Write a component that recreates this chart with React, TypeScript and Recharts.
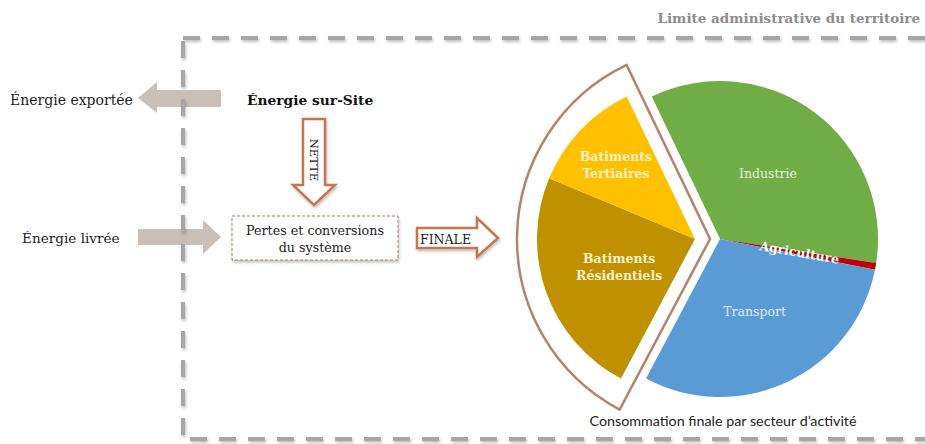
import React from 'react'
import { PieChart, Pie, Cell } from 'recharts'

// sectors of the final consumption pie (share in %)
const sectors = ['Industrie', 'Agriculture', 'Transport', 'Batiments Résidentiels', 'Batiments Tertiaires']
const shares = [34.5, 0.7, 29.6, 23.5, 11.6]
const sectorColors = ['#70ad47', '#c00000', '#5b9bd5', '#bf9000', '#ffc000']
const isBuilding = [false, false, false, true, true]

const pieData = sectors.map((name, i) => ({ name, value: shares[i] }))
const frameData = [
    { name: 'Autres', value: shares.filter((_, i) => !isBuilding[i]).reduce((a, b) => a + b, 0) },
    { name: 'Bâtiments', value: shares.filter((_, i) => isBuilding[i]).reduce((a, b) => a + b, 0) },
]

const START = 115.6
const SERIF = '"DejaVu Serif", serif'

const labelStyle = (name: string) => {
    if (name.startsWith('Batiments')) return { fill: '#fff2cc', fontWeight: 700 }
    if (name === 'Industrie') return { fill: '#e2efda', fontWeight: 400 }
    if (name === 'Transport') return { fill: '#deebf7', fontWeight: 400 }
    return { fill: '#ffffff', fontWeight: 700 }
}

const renderLabel = (buildings: boolean) => (props: any) => {
    const { cx, cy, midAngle, outerRadius, index } = props
    if (isBuilding[index] !== buildings) return null
    const name = sectors[index]
    const RAD = Math.PI / 180
    const r = outerRadius * (name === 'Batiments Tertiaires' ? 0.69 : 0.51)
    const x = cx + r * Math.cos(-midAngle * RAD)
    const y = cy + r * Math.sin(-midAngle * RAD)
    const lines = name.startsWith('Batiments') ? name.split(' ') : [name]
    const st = labelStyle(name)
    const rot = name === 'Agriculture' ? `rotate(${-midAngle}, ${x}, ${y})` : undefined
    return (
        <text
            x={x}
            y={y}
            textAnchor="middle"
            fontFamily={SERIF}
            fontSize={12.5}
            fill={st.fill}
            fontWeight={st.fontWeight}
            transform={rot}
        >
            {lines.map((l, i) => (
                <tspan key={l} x={x} dy={i === 0 ? (lines.length > 1 ? -3 : 4) : 17}>{l}</tspan>
            ))}
        </text>
    )
}

function Decorations() {
    return (
        <svg width={925} height={444} style={{ position: 'absolute', left: 0, top: 0 }}>
            <defs>
                <filter id="shadow" x="-20%" y="-20%" width="140%" height="160%">
                    <feDropShadow dx="1" dy="2" stdDeviation="1.5" floodColor="#000" floodOpacity="0.25" />
                </filter>
            </defs>
            <rect x={0} y={0} width={925} height={444} fill="#fff" />

            {/* gray arrows */}
            <path d="M221,90 V107 H157 V113 L138,98 L157,82 V90 Z" fill="#c8bfb9" />
            <path d="M138,229 H203 V220 L221,237 L203,254 V245 H138 Z" fill="#c8bfb9" />

            {/* territory boundary */}
            <g stroke="#a6a6a6" strokeWidth={4} strokeDasharray="17 12" filter="url(#shadow)" fill="none">
                <path d="M183,38 H925" />
                <path d="M183,41 V436" />
                <path d="M190,439 H925" />
            </g>
            <text x={920} y={23} textAnchor="end" fontFamily={SERIF} fontSize={13.5} fontWeight={700} fill="#8c8c8c">
                Limite administrative du territoire
            </text>

            <text x={10} y={105} fontFamily={SERIF} fontSize={14} fill="#222">Énergie exportée</text>
            <text x={22} y={243} fontFamily={SERIF} fontSize={13.6} fill="#222">Énergie livrée</text>
            <text x={247} y={105} fontFamily={SERIF} fontSize={13.8} fontWeight={700} fill="#111">Énergie sur-Site</text>

            {/* NETTE arrow */}
            <path d="M303,119 H325 V185 H335 L314,205 L293,185 H303 Z" fill="#fff" stroke="#c47650" strokeWidth={2.5} filter="url(#shadow)" />
            <text x={0} y={0} transform="translate(310,160) rotate(90)" textAnchor="middle" fontFamily={SERIF} fontSize={11.5} fill="#222">NETTE</text>

            {/* system box */}
            <rect x={232} y={216} width={166} height={44} fill="#fff" stroke="#b07860" strokeWidth={1} strokeDasharray="3 2" filter="url(#shadow)" />
            <text x={315} y={235} textAnchor="middle" fontFamily={SERIF} fontSize={12.7} fill="#222">Pertes et conversions</text>
            <text x={315} y={252} textAnchor="middle" fontFamily={SERIF} fontSize={12.7} fill="#222">du système</text>

            {/* FINALE arrow */}
            <path d="M417,228 H477 V218 L498,238 L477,257 V248 H417 Z" fill="#fff" stroke="#c47650" strokeWidth={2.5} filter="url(#shadow)" />
            <text x={420} y={244} fontFamily={SERIF} fontSize={12.5} fill="#222">FINALE</text>

            <text x={723} y={426} textAnchor="middle" fontFamily="Lato, sans-serif" fontSize={14.3} fill="#222">
                Consommation finale par secteur d’activité
            </text>
        </svg>
    )
}

export default function App() {
    return (
        <div style={{ position: 'absolute', left: 0, top: 0, width: 925, height: 444, background: '#fff' }}>
            <Decorations />
            <div style={{ position: 'absolute', left: 0, top: 0 }}>
                <PieChart width={925} height={444} margin={{ top: 0, right: 0, left: 0, bottom: 0 }}>
                    {/* frame around the building sectors */}
                    <Pie
                        data={frameData}
                        dataKey="value"
                        nameKey="name"
                        cx={710}
                        cy={239}
                        outerRadius={193}
                        startAngle={START}
                        endAngle={START - 360}
                        isAnimationActive={false}
                        labelLine={false}
                    >
                        <Cell fill="none" stroke="none" />
                        <Cell fill="#fff" stroke="#b7826a" strokeWidth={2.5} />
                    </Pie>
                    {/* main sectors */}
                    <Pie
                        data={pieData}
                        dataKey="value"
                        nameKey="name"
                        cx={720}
                        cy={239}
                        outerRadius={158}
                        startAngle={START}
                        endAngle={START - 360}
                        isAnimationActive={false}
                        labelLine={false}
                        label={renderLabel(false)}
                    >
                        {pieData.map((d, i) => (
                            <Cell key={d.name} fill={isBuilding[i] ? 'none' : sectorColors[i]} stroke="none" />
                        ))}
                    </Pie>
                    {/* exploded building sectors */}
                    <Pie
                        data={pieData}
                        dataKey="value"
                        nameKey="name"
                        cx={695}
                        cy={239}
                        outerRadius={158}
                        startAngle={START}
                        endAngle={START - 360}
                        isAnimationActive={false}
                        labelLine={false}
                        label={renderLabel(true)}
                    >
                        {pieData.map((d, i) => (
                            <Cell key={d.name} fill={isBuilding[i] ? sectorColors[i] : 'none'} stroke="none" />
                        ))}
                    </Pie>
                </PieChart>
            </div>
        </div>
    )
}
